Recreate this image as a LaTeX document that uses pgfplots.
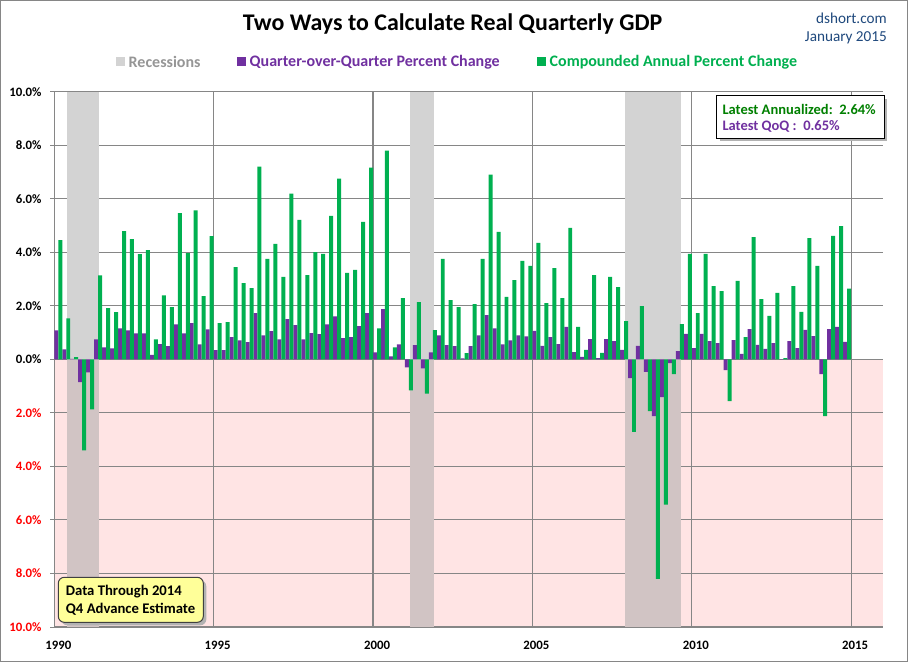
\documentclass[border=0pt]{standalone}
\usepackage{pgfplots}
\pgfplotsset{compat=1.18}
\usepackage{pgfplotstable}
\usepackage{fontspec}
\setmainfont{Carlito}
\definecolor{qpurple}{RGB}{112,48,160}
\definecolor{qgreen}{RGB}{0,176,80}
\definecolor{recgray}{RGB}{211,211,211}
\definecolor{recpink}{RGB}{209,196,196}
\definecolor{negpink}{RGB}{255,228,228}
\definecolor{gridgray}{RGB}{134,134,134}
\definecolor{dsblue}{RGB}{31,73,125}
\definecolor{leggray}{RGB}{150,150,150}
\definecolor{darkgreen}{RGB}{0,128,0}
\definecolor{notebox}{RGB}{255,255,153}

\pgfplotstableread{
i qoq ann
0 1.08 4.45
1 0.37 1.53
2 0.02 0.08
3 -0.85 -3.40
4 -0.49 -1.87
5 0.75 3.14
6 0.45 1.91
7 0.41 1.76
8 1.16 4.79
9 1.08 4.49
10 0.97 3.93
11 0.97 4.08
12 0.17 0.75
13 0.57 2.39
14 0.49 1.95
15 1.31 5.46
16 0.97 3.97
17 1.35 5.57
18 0.56 2.36
19 1.12 4.60
20 0.34 1.35
21 0.34 1.39
22 0.83 3.45
23 0.71 2.85
24 0.64 2.66
25 1.73 7.20
26 0.90 3.75
27 1.05 4.31
28 0.75 3.08
29 1.50 6.19
30 1.28 5.21
31 0.75 3.15
32 0.98 4.01
33 0.94 3.94
34 1.31 5.36
35 1.61 6.75
36 0.79 3.23
37 0.83 3.34
38 1.24 5.14
39 1.73 7.16
40 0.26 1.16
41 1.88 7.80
42 0.11 0.45
43 0.56 2.29
44 -0.30 -1.16
45 0.53 2.14
46 -0.34 -1.28
47 0.26 1.09
48 0.90 3.75
49 0.53 2.21
50 0.49 1.95
51 0.04 0.23
52 0.49 2.06
53 0.90 3.75
54 1.65 6.90
55 1.16 4.76
56 0.56 2.33
57 0.71 2.96
58 0.90 3.68
59 0.86 3.49
60 1.06 4.35
61 0.50 2.10
62 0.83 3.41
63 0.57 2.29
64 1.21 4.91
65 0.27 1.21
66 0.09 0.35
67 0.76 3.15
68 0.05 0.24
69 0.76 3.08
70 0.68 2.70
71 0.35 1.43
72 -0.70 -2.71
73 0.50 1.99
74 -0.47 -1.93
75 -2.12 -8.20
76 -1.41 -5.43
77 -0.14 -0.55
78 0.31 1.32
79 0.95 3.94
80 0.42 1.73
81 0.95 3.94
82 0.68 2.74
83 0.61 2.55
84 -0.40 -1.56
85 0.72 2.93
86 0.20 0.83
87 1.13 4.57
88 0.54 2.25
89 0.39 1.62
90 0.61 2.48
91 0.01 0.05
92 0.68 2.74
93 0.42 1.77
94 1.10 4.53
95 0.87 3.49
96 -0.55 -2.12
97 1.13 4.61
98 1.21 4.98
99 0.65 2.64
}\gdp

\begin{document}
\begin{tikzpicture}[x=1pt,y=1pt]
\fill[white] (0,0) rectangle (908,662);
\draw[gridgray, line width=1.2pt] (0.6,0.6) rectangle (907.4,661.4);
% negative-region background
\fill[negpink] (54.3,35) rectangle (883,302.65);
\begin{axis}[
  at={(54.3pt,35pt)}, anchor=south west,
  scale only axis, width=828.7pt, height=535.3pt,
  xmin=0, xmax=104, ymin=-10, ymax=10,
  axis x line*=bottom, axis y line*=left,
  axis line style={gridgray, line width=1.1pt},
  xtick={0,20,40,60,80,100},
  xticklabels={1990,1995,2000,2005,2010,2015},
  ytick={-10,-8,-6,-4,-2,0,2,4,6,8,10},
  yticklabels={\textcolor{red}{10.0\%},\textcolor{red}{8.0\%},\textcolor{red}{6.0\%},\textcolor{red}{4.0\%},\textcolor{red}{2.0\%},0.0\%,2.0\%,4.0\%,6.0\%,8.0\%,10.0\%},
  grid=major,
  major grid style={gridgray, line width=1.1pt},
  xtick style={draw=none},
  ytick style={gridgray, line width=1pt},
  ytick align=outside,
  major tick length=4pt,
  tick label style={font=\bfseries\fontsize{12.8}{15}\selectfont},
  yticklabel style={anchor=east, inner sep=0pt, xshift=-8.6pt},
  xticklabel style={anchor=center, inner sep=0pt, yshift=-18pt, xshift=4pt},
]
% recessions
\fill[recgray] (axis cs:1.55,0) rectangle (axis cs:5.55,10);
\fill[recpink] (axis cs:1.55,-10) rectangle (axis cs:5.55,0);
\fill[recgray] (axis cs:44.65,0) rectangle (axis cs:47.65,10);
\fill[recpink] (axis cs:44.65,-10) rectangle (axis cs:47.65,0);
\fill[recgray] (axis cs:71.6,0) rectangle (axis cs:78.6,10);
\fill[recpink] (axis cs:71.6,-10) rectangle (axis cs:78.6,0);
\addplot[ybar, bar width=0.5, bar shift=0pt, fill=qpurple, draw=none]
  table[x expr=\thisrow{i}+0.25, y=qoq]{\gdp};
\addplot[ybar, bar width=0.5, bar shift=0pt, fill=qgreen, draw=none]
  table[x expr=\thisrow{i}+0.75, y=ann]{\gdp};
\end{axis}

% title
\node[font=\bfseries\fontsize{23.9}{28}\selectfont, anchor=center] at (452.5,638) {Two Ways to Calculate Real Quarterly GDP};
\node[font=\fontsize{15.2}{18}\selectfont, text=dsblue, anchor=east, inner sep=0pt] at (887,644) {dshort.com};
\node[font=\fontsize{15.2}{18}\selectfont, text=dsblue, anchor=east, inner sep=0pt] at (887,624) {January 2015};

% legend
\fill[recgray] (116,596) rectangle (124.5,604.5);
\node[font=\bfseries\fontsize{16}{18}\selectfont, text=leggray, anchor=west, inner sep=0pt] at (128.5,600) {Recessions};
\fill[qpurple] (237.4,596) rectangle (246,604.5);
\node[font=\bfseries\fontsize{16}{18}\selectfont, text=qpurple, anchor=west, inner sep=0pt] at (249.5,600) {Quarter-over-Quarter Percent Change};
\fill[qgreen] (537,596) rectangle (545.5,604.5);
\node[font=\bfseries\fontsize{16}{18}\selectfont, text=qgreen, anchor=west, inner sep=0pt] at (549.5,600) {Compounded Annual Percent Change};

% latest box
\fill[gray!60] (719.7,520.7) rectangle (887,563);
\draw[black, fill=white, line width=1pt] (716.7,523.7) rectangle (884,566);
\node[font=\bfseries\fontsize{14.5}{16}\selectfont, text=darkgreen, anchor=west, inner sep=0pt] at (722.3,552.7) {Latest Annualized:\ \ 2.64\%};
\node[font=\bfseries\fontsize{14.5}{16}\selectfont, text=qpurple, anchor=west, inner sep=0pt] at (722.3,536) {Latest QoQ :\ \ 0.65\%};

% note box
\fill[gray!60, rounded corners=6pt] (61.3,36.7) rectangle (206.3,81.7);
\draw[black!75, fill=notebox, line width=1pt, rounded corners=6pt] (58.3,39.7) rectangle (203.3,84.7);
\node[font=\bfseries\fontsize{14.7}{16}\selectfont, anchor=west, inner sep=0pt] at (65.7,70.3) {Data Through 2014};
\node[font=\bfseries\fontsize{14.7}{16}\selectfont, anchor=west, inner sep=0pt] at (65.7,52.7) {Q4 Advance Estimate};
\end{tikzpicture}
\end{document}
